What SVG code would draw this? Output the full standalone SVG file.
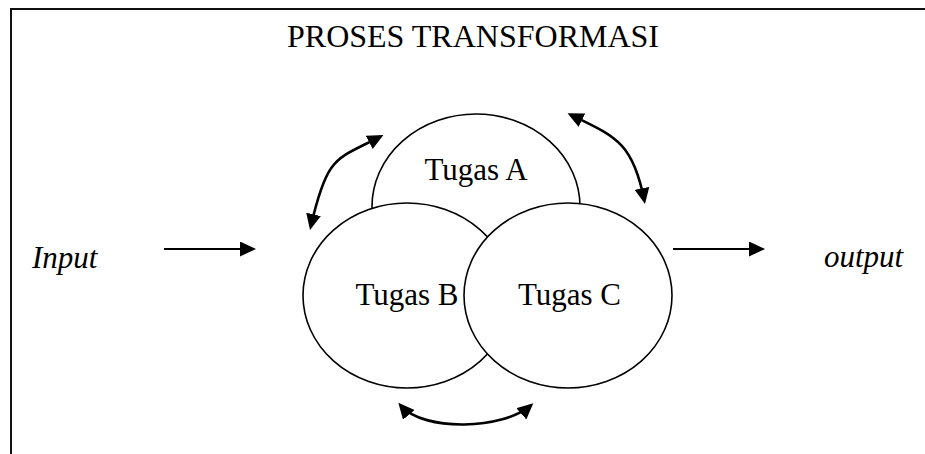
<svg xmlns="http://www.w3.org/2000/svg" width="925" height="454" viewBox="0 0 925 454">
  <style>
    text { font-family: "Liberation Serif", "Times New Roman", serif; fill: #000; }
    .lbl { font-size: 31px; text-anchor: middle; }
    .title { font-size: 32px; text-anchor: middle; }
    .io { font-size: 31px; font-style: italic; }
    .node ellipse { fill: #fff; stroke: #000; stroke-width: 1.6; }
    .conn { fill: none; stroke: #000; }
    .straight { stroke-width: 2.2; marker-end: url(#ah); }
    .curve { stroke-width: 2.6; marker-start: url(#ah); marker-end: url(#ah); }
    .frame { fill: none; stroke: #111; stroke-width: 2; }
  </style>
  <defs>
    <marker id="ah" viewBox="0 0 16 15" refX="12.5" refY="7.5" markerWidth="16" markerHeight="15" markerUnits="userSpaceOnUse" orient="auto-start-reverse">
      <path d="M0,0 L16,7.5 L0,15 z" fill="#000"/>
    </marker>
  </defs>
  <rect width="925" height="454" fill="#fff"/>
  <g id="frame">
    <path class="frame" d="M11,454 L11,9 L925,9"/>
  </g>
  <g id="title">
    <text class="title" x="473" y="47">PROSES TRANSFORMASI</text>
  </g>
  <g id="input">
    <text class="io" x="32" y="268">Input</text>
  </g>
  <g id="output">
    <text class="io" x="824" y="267">output</text>
  </g>
  <g id="tugas-a" class="node">
    <ellipse cx="476" cy="206.5" rx="104" ry="92.5"/>
    <text class="lbl" x="476" y="180">Tugas A</text>
  </g>
  <g id="tugas-b" class="node">
    <ellipse cx="407" cy="295.5" rx="104" ry="92.5"/>
    <text class="lbl" x="407" y="305">Tugas B</text>
  </g>
  <g id="tugas-c" class="node">
    <ellipse cx="568" cy="295.5" rx="104" ry="92.5"/>
    <text class="lbl" x="569.5" y="305">Tugas C</text>
  </g>
  <g id="connectors" class="conn">
    <path class="conn straight" d="M164,249 L252.5,249"/>
    <path class="conn straight" d="M673,249 L761.5,249"/>
    <path class="conn curve" d="M310.8,226.6 C327.2,154.3 336.3,159.6 380.3,136.6"/>
    <path class="conn curve" d="M570.7,114.8 C615.4,136.5 633,142.3 644.3,200.6"/>
    <path class="conn curve" d="M400.6,405.4 C423.7,432.4 504,429.1 530.7,405.6"/>
  </g>
</svg>
